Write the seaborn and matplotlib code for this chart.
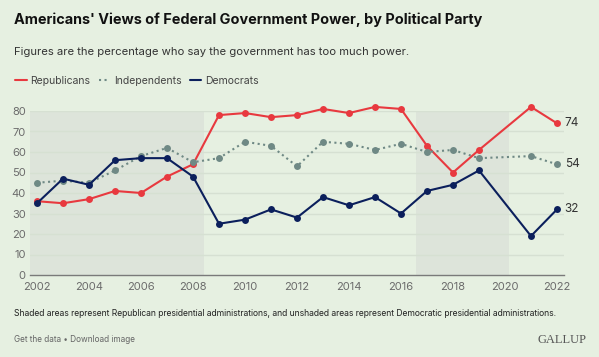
import numpy as np
import pandas as pd
import seaborn as sns
import matplotlib.pyplot as plt

# data (no survey in 2020)
years = [2002, 2003, 2004, 2005, 2006, 2007, 2008, 2009, 2010, 2011,
         2012, 2013, 2014, 2015, 2016, 2017, 2018, 2019, 2021, 2022]
republicans = [36, 35, 37, 41, 40, 48, 54, 78, 79, 77,
               78, 81, 79, 82, 81, 63, 50, 61, 82, 74]
independents = [45, 46, 45, 51, 58, 62, 55, 57, 65, 63,
                53, 65, 64, 61, 64, 60, 61, 57, 58, 54]
democrats = [35, 47, 44, 56, 57, 57, 48, 25, 27, 32,
             28, 38, 34, 38, 30, 41, 44, 51, 19, 32]
shaded = [(2001.73, 2008.41), (2016.56, 2020.15)]
xticks = list(range(2002, 2023, 2))
yticks = list(range(0, 81, 10))

bg = "#e6f0e1"
shade = "#dde4da"
red = "#e8393f"
navy = "#0b1f5c"
grey = "#6f8985"

sns.set_theme(style="white")
plt.rcParams["font.family"] = ["Inter", "DejaVu Sans"]

fig = plt.figure(figsize=(5.99, 3.57), dpi=100, facecolor=bg)
ax = fig.add_axes([30 / 599, 1 - 275 / 357, (564 - 30) / 599, (275 - 111) / 357])
ax.set_facecolor(bg)

for a, b in shaded:
    ax.axvspan(a, b, ymin=0, ymax=1, color=shade, lw=0, zorder=0)
for y in yticks[1:]:
    ax.axhline(y, color="#d6e0d2", lw=1, zorder=1)

series = [("Republicans", republicans, red, "-"),
          ("Independents", independents, grey, ":"),
          ("Democrats", democrats, navy, "-")]
for name, vals, col, ls in series:
    sns.lineplot(x=years, y=vals, ax=ax, color=col, linestyle=ls, lw=1.5,
                 marker="o", markersize=5, markeredgewidth=0,
                 label=name, legend=False, zorder=3, clip_on=False)
    ax.text(years[-1] + 0.3, vals[-1], str(vals[-1]), fontsize=8.5,
            color="#333333", va="center", ha="left")

ax.set_xlim(2001.73, 2022.27)
ax.set_ylim(0, 80)
ax.set_xticks(xticks)
ax.set_yticks(yticks)
ax.tick_params(axis="both", length=0, labelsize=8, labelcolor="#6b6b6b")
ax.tick_params(axis="x", pad=5)
ax.tick_params(axis="y", pad=3)
for s in ["top", "right", "left"]:
    ax.spines[s].set_visible(False)
ax.spines["bottom"].set_color("#7a7a7a")
ax.spines["bottom"].set_linewidth(1)
ax.set_xlabel("")
ax.set_ylabel("")

# legend in the header
h, l = ax.get_legend_handles_labels()
leg = fig.legend(h, l, loc="center left", bbox_to_anchor=(6 / 599, 1 - 81 / 357),
                 ncol=3, frameon=False, fontsize=7.5, handlelength=1.1,
                 handletextpad=0.35, columnspacing=0.8, labelcolor="#444444")
for line in leg.get_lines():
    line.set_marker("")

fig.text(14 / 599, 1 - 20 / 357,
         "Americans' Views of Federal Government Power, by Political Party",
         fontsize=10.4, fontweight="bold", color="#111111", va="center")
fig.text(14 / 599, 1 - 52 / 357,
         "Figures are the percentage who say the government has too much power.",
         fontsize=8.1, color="#333333", va="center")
fig.text(14 / 599, 1 - 314 / 357,
         "Shaded areas represent Republican presidential administrations, and unshaded areas represent Democratic presidential administrations.",
         fontsize=6.15, color="#222222", va="center")
fig.text(14 / 599, 1 - 340 / 357, "Get the data \u2022 Download image",
         fontsize=5.9, color="#666666", va="center")
fig.text(586 / 599, 1 - 340 / 357, "GALLUP", fontsize=9, color="#555555",
         va="center", ha="right", family=["Liberation Serif", "DejaVu Serif"])

fig.savefig("out.png", dpi=100, facecolor=bg)
